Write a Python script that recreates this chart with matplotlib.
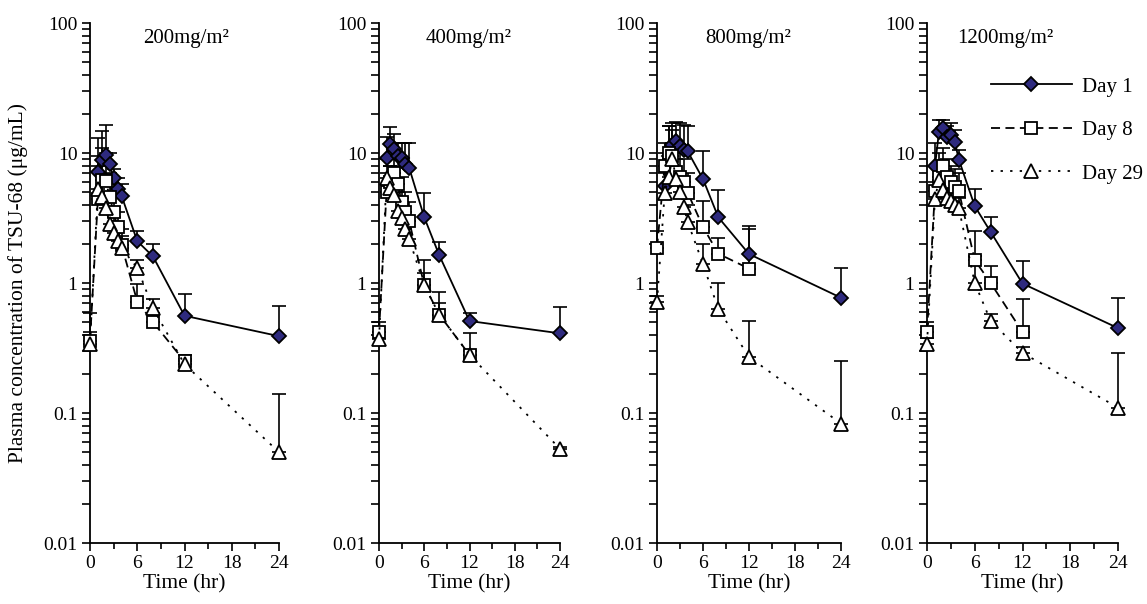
import numpy as np
import matplotlib
matplotlib.use("Agg")
import matplotlib.pyplot as plt
from matplotlib.ticker import FixedLocator, LogLocator, NullFormatter

plt.rcParams['font.family'] = ['Liberation Serif', 'DejaVu Serif']

nan = np.nan

# sampling times (hr)
times = [0, 1, 1.5, 2, 2.5, 3, 3.5, 4, 6, 8, 12, 24]

doses = ["200mg/m²", "400mg/m²", "800mg/m²", "1200mg/m²"]
days = ["Day 1", "Day 8", "Day 29"]

# mean concentrations (ug/mL), one list per dose
day1_mean = [
    [nan, 7.2, 8.9, 9.6, 8.2, 6.4, 5.3, 4.7, 2.1, 1.6, 0.56, 0.39],
    [nan, 9.1, 11.7, 10.7, 9.5, 9.2, 8.3, 7.7, 3.2, 1.63, 0.51, 0.41],
    [nan, 5.6, 9.5, 11.5, 12.3, 11.4, 10.5, 10.3, 6.3, 3.2, 1.67, 0.77],
    [nan, 7.9, 14.5, 15.6, 13.3, 13.8, 12.1, 8.9, 3.9, 2.47, 0.99, 0.45],
]
day8_mean = [
    [0.36, 4.4, 6.2, 6.1, 4.6, 3.5, 2.7, 1.96, 0.72, 0.50, 0.25, nan],
    [0.42, 5.0, 6.0, 7.0, 5.8, 4.2, 3.5, 3.0, 0.96, 0.57, 0.28, nan],
    [1.87, 8.0, 10.0, 9.5, 7.1, 6.5, 6.0, 4.95, 2.7, 1.68, 1.29, nan],
    [0.42, 5.1, 6.5, 7.9, 6.5, 6.0, 5.5, 5.1, 1.5, 1.0, 0.42, nan],
]
day29_mean = [
    [0.34, 5.3, 4.6, 3.76, 2.83, 2.44, 2.1, 1.85, 1.31, 0.64, 0.237, 0.05],
    [0.37, 6.4, 5.4, 4.75, 3.6, 3.15, 2.6, 2.18, 0.96, 0.57, 0.28, 0.053],
    [0.71, 4.9, 6.5, 9.0, 6.3, 5.0, 3.84, 2.95, 1.4, 0.63, 0.27, 0.083],
    [0.34, 4.45, 6.2, 5.2, 4.5, 4.25, 4.0, 3.77, 1.0, 0.51, 0.29, 0.11],
]

# top of the error bars (mean + SD)
day1_upper = [
    [nan, 13.1, 14.8, 16.4, 10.0, 7.5, 6.4, 5.8, 2.5, 2.0, 0.82, 0.67],
    [nan, 13.2, 15.8, 14.1, 12.0, 12.0, 11.9, 11.9, 4.9, 2.05, 0.59, 0.65],
    [nan, 10.0, 16.0, 17.0, 17.3, 17.0, 16.5, 16.0, 10.4, 5.2, 2.74, 1.31],
    [nan, 12.0, 18.0, 18.0, 16.0, 17.0, 15.0, 10.6, 5.3, 3.2, 1.48, 0.77],
]
day8_upper = [
    [0.59, 9.5, 11.0, 10.0, 7.0, 5.0, 3.5, 2.6, 0.99, 0.59, 0.28, nan],
    [0.50, 7.0, 8.0, 9.0, 8.0, 6.5, 5.0, 4.2, 1.5, 0.86, 0.41, nan],
    [2.5, 12.0, 16.0, 15.0, 12.0, 10.0, 9.0, 7.0, 4.3, 2.2, 2.6, nan],
    [0.50, 8.0, 10.0, 11.0, 9.0, 8.0, 7.5, 7.0, 2.5, 1.34, 0.75, nan],
]
day29_upper = [
    [0.42, 8.0, 6.5, 5.0, 3.8, 3.2, 2.7, 2.3, 1.5, 0.75, 0.26, 0.14],
    [0.42, 9.0, 8.0, 7.0, 5.0, 4.5, 3.5, 3.0, 1.2, 0.70, 0.30, 0.055],
    [0.79, 7.0, 9.0, 12.0, 9.0, 7.0, 5.5, 4.0, 2.0, 1.0, 0.51, 0.25],
    [0.38, 6.0, 8.0, 7.0, 6.0, 5.5, 5.0, 4.5, 1.6, 0.58, 0.32, 0.29],
]

W, H = 1147, 604
fig = plt.figure(figsize=(W / 100, H / 100), dpi=100)

# panel placement in pixels (left, width)
lefts = [90, 379, 657, 927]
widths = [189, 181, 184, 191]
top_px, bot_px = 23, 543
title_x = [0.28, 0.26, 0.26, 0.16]

styles = [
    dict(ls='-', marker='D', mfc='#2e2a7e', ms=7.5),
    dict(ls=(0, (5, 3)), marker='s', mfc='white', ms=9),
    dict(ls=(0, (1.3, 4)), marker='^', mfc='white', ms=9.5),
]
fs = 14

axes = []
for i in range(4):
    ax = fig.add_axes([lefts[i] / W, (H - bot_px) / H, widths[i] / W, (bot_px - top_px) / H])
    axes.append(ax)
    means = [day1_mean[i], day8_mean[i], day29_mean[i]]
    uppers = [day1_upper[i], day8_upper[i], day29_upper[i]]
    for k in range(3):
        m = np.array(means[k])
        up = np.array(uppers[k]) - m
        ax.errorbar(times, m, yerr=[np.zeros_like(m), up], fmt='none', ecolor='black',
                    elinewidth=1.2, capsize=5, capthick=1.2, clip_on=False, zorder=2)
    for k in range(3):
        ax.plot(times, means[k], color='black', lw=1.3, mec='black', mew=1.3,
                clip_on=False, zorder=3 + k, label=days[k], **styles[k])

    ax.set_yscale('log')
    ax.set_ylim(0.01, 100)
    ax.set_xlim(0, 24)
    ax.set_yticks([0.01, 0.1, 1, 10, 100])
    ax.set_yticklabels(["0.01", "0.1", "1", "10", "100"])
    ax.yaxis.set_minor_locator(LogLocator(base=10, subs=np.arange(2, 10)))
    ax.yaxis.set_minor_formatter(NullFormatter())
    ax.set_xticks([0, 6, 12, 18, 24])
    ax.xaxis.set_minor_locator(FixedLocator([3, 9, 15, 21]))
    ax.tick_params(which='both', direction='out', width=1.2, labelsize=fs, pad=3)
    ax.tick_params(axis='y', which='both', length=6)
    ax.tick_params(axis='x', which='major', length=6)
    ax.tick_params(axis='x', which='minor', length=4)
    for s in ['top', 'right']:
        ax.spines[s].set_visible(False)
    for s in ['left', 'bottom']:
        ax.spines[s].set_linewidth(1.3)
    ax.set_xlabel("Time (hr)", fontsize=15.5, labelpad=1)
    ax.text(title_x[i], 0.97, doses[i], transform=ax.transAxes, fontsize=15,
            ha='left', va='center')

axes[3].legend(loc='upper left', bbox_to_anchor=(0.29, 0.912), frameon=False,
               fontsize=15, handlelength=3.9, handletextpad=0.5, labelspacing=1.15,
               numpoints=1, borderaxespad=0)

fig.text(18 / W, 1 - 283 / H, "Plasma concentration of TSU-68 (μg/mL)", rotation=90,
         ha='center', va='center', fontsize=15.5)

fig.savefig("out.png", dpi=100)
